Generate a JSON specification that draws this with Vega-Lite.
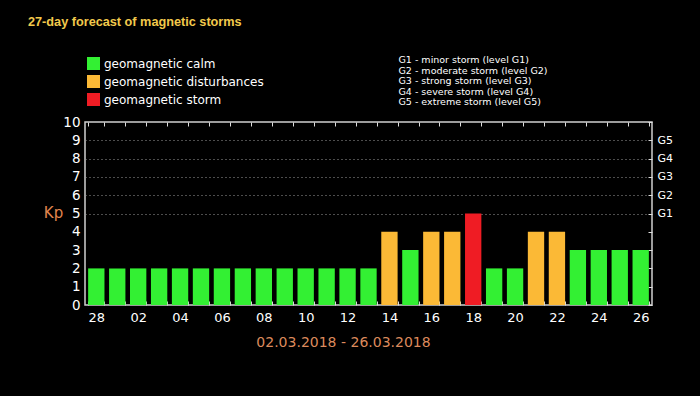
{
  "$schema": "https://vega.github.io/schema/vega-lite/v6.json",
  "width": 567,
  "height": 183,
  "autosize": "none",
  "padding": {"left": 85, "top": 122, "right": 48, "bottom": 91},
  "background": "black",
  "view": {"stroke": "#d0d0d0", "strokeWidth": 1.5},
  "title": {
    "text": "27-day forecast of magnetic storms",
    "anchor": "start",
    "frame": "group",
    "dx": -57,
    "offset": 17,
    "baseline": "alphabetic",
    "color": "#f2c94c",
    "font": "Liberation Sans",
    "fontSize": 12.7,
    "fontWeight": "bold"
  },
  "datasets": {
    "kp": [
      {"day": "28", "kp": 2, "level": "geomagnetic calm"},
      {"day": "01", "kp": 2, "level": "geomagnetic calm"},
      {"day": "02", "kp": 2, "level": "geomagnetic calm"},
      {"day": "03", "kp": 2, "level": "geomagnetic calm"},
      {"day": "04", "kp": 2, "level": "geomagnetic calm"},
      {"day": "05", "kp": 2, "level": "geomagnetic calm"},
      {"day": "06", "kp": 2, "level": "geomagnetic calm"},
      {"day": "07", "kp": 2, "level": "geomagnetic calm"},
      {"day": "08", "kp": 2, "level": "geomagnetic calm"},
      {"day": "09", "kp": 2, "level": "geomagnetic calm"},
      {"day": "10", "kp": 2, "level": "geomagnetic calm"},
      {"day": "11", "kp": 2, "level": "geomagnetic calm"},
      {"day": "12", "kp": 2, "level": "geomagnetic calm"},
      {"day": "13", "kp": 2, "level": "geomagnetic calm"},
      {"day": "14", "kp": 4, "level": "geomagnetic disturbances"},
      {"day": "15", "kp": 3, "level": "geomagnetic calm"},
      {"day": "16", "kp": 4, "level": "geomagnetic disturbances"},
      {"day": "17", "kp": 4, "level": "geomagnetic disturbances"},
      {"day": "18", "kp": 5, "level": "geomagnetic storm"},
      {"day": "19", "kp": 2, "level": "geomagnetic calm"},
      {"day": "20", "kp": 2, "level": "geomagnetic calm"},
      {"day": "21", "kp": 4, "level": "geomagnetic disturbances"},
      {"day": "22", "kp": 4, "level": "geomagnetic disturbances"},
      {"day": "23", "kp": 3, "level": "geomagnetic calm"},
      {"day": "24", "kp": 3, "level": "geomagnetic calm"},
      {"day": "25", "kp": 3, "level": "geomagnetic calm"},
      {"day": "26", "kp": 3, "level": "geomagnetic calm"}
    ],
    "g": [
      {"g": "G1 - minor storm (level G1)"},
      {"g": "G2 - moderate storm (level G2)"},
      {"g": "G3 - strong storm (level G3)"},
      {"g": "G4 - severe storm (level G4)"},
      {"g": "G5 - extreme storm (level G5)"}
    ]
  },
  "layer": [
    {
      "data": {"name": "kp"},
      "mark": {"type": "bar"},
      "encoding": {
        "x": {
          "field": "day",
          "type": "ordinal",
          "sort": null,
          "scale": {"paddingInner": 0.22, "paddingOuter": 0.15},
          "axis": {
            "title": "02.03.2018 - 26.03.2018",
            "titleColor": "#dc8a5c",
            "titleFont": "DejaVu Sans",
            "titleFontSize": 14,
            "titleFontWeight": "normal",
            "titleX": 258,
            "titleY": 41,
            "titleAlign": "center",
            "titleBaseline": "alphabetic",
            "labelAngle": 0,
            "labelColor": "white",
            "labelFont": "DejaVu Sans",
            "labelFontSize": 13,
            "labelPadding": 10,
            "labelBaseline": "top",
            "labelExpr": "indexof(['28','02','04','06','08','10','12','14','16','18','20','22','24','26'], datum.value) >= 0 ? datum.value : ''",
            "domain": false,
            "tickBand": "extent",
            "tickSize": -4,
            "tickColor": "#dddddd"
          }
        },
        "y": {
          "field": "kp",
          "type": "quantitative",
          "scale": {"domain": [0, 10], "nice": false},
          "axis": {
            "title": "Kp",
            "titleAngle": 0,
            "titleColor": "#e0864e",
            "titleFont": "DejaVu Sans",
            "titleFontSize": 15,
            "titleFontWeight": "normal",
            "titleX": -32,
            "titleY": 90,
            "titleAlign": "center",
            "titleBaseline": "middle",
            "values": [0, 1, 2, 3, 4, 5, 6, 7, 8, 9, 10],
            "labelColor": "white",
            "labelFont": "DejaVu Sans",
            "labelFontSize": 13.5,
            "labelPadding": 5,
            "ticks": false,
            "domain": false,
            "grid": true,
            "gridColor": "#9a9a9a",
            "gridDash": [1, 3],
            "gridOpacity": {"condition": {"test": "datum.value >= 5 && datum.value <= 9", "value": 1}, "value": 0}
          }
        },
        "color": {
          "field": "level",
          "type": "nominal",
          "scale": {
            "domain": ["geomagnetic calm", "geomagnetic disturbances", "geomagnetic storm"],
            "range": ["#33f033", "#fbb936", "#ef1c24"]
          },
          "legend": {
            "title": null,
            "orient": "none",
            "direction": "vertical",
            "legendX": 2,
            "legendY": -65,
            "padding": 0,
            "symbolType": "square",
            "symbolSize": 169,
            "symbolStrokeWidth": 0,
            "symbolOpacity": 1,
            "labelColor": "white",
            "labelFont": "DejaVu Sans",
            "labelFontSize": 12,
            "labelOffset": 4,
            "rowPadding": 5
          }
        }
      }
    },
    {
      "data": {"name": "kp"},
      "mark": {"type": "bar", "opacity": 0},
      "encoding": {
        "x": {
          "field": "day",
          "type": "ordinal",
          "sort": null,
          "axis": {
            "orient": "top",
            "title": null,
            "labels": false,
            "domain": false,
            "tickBand": "extent",
            "tickSize": -4,
            "tickColor": "#dddddd"
          }
        },
        "y": {
          "field": "kp",
          "type": "quantitative",
          "axis": {
            "orient": "right",
            "title": null,
            "values": [0, 1, 2, 3, 4, 5, 6, 7, 8, 9, 10],
            "labelExpr": "datum.value >= 5 && datum.value <= 9 ? 'G' + (datum.value - 4) : ''",
            "labelColor": "white",
            "labelFont": "DejaVu Sans",
            "labelFontSize": 11,
            "labelPadding": 9,
            "tickSize": -4,
            "tickColor": "#dddddd",
            "domain": false,
            "grid": false
          }
        }
      }
    },
    {
      "data": {"name": "g"},
      "mark": {"type": "point", "opacity": 0},
      "encoding": {
        "shape": {
          "field": "g",
          "type": "nominal",
          "legend": {
            "title": null,
            "orient": "none",
            "direction": "vertical",
            "legendX": 304,
            "legendY": -66.5,
            "padding": 0,
            "symbolSize": 0,
            "symbolOpacity": 0,
            "labelOffset": 0,
            "labelColor": "white",
            "labelFont": "DejaVu Sans",
            "labelFontSize": 9.5,
            "rowPadding": -0.5
          }
        }
      }
    }
  ],
  "resolve": {"axis": {"x": "independent", "y": "independent"}}
}
